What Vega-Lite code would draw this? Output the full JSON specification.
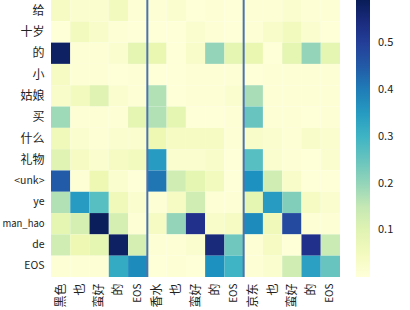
{
  "$schema": "https://vega.github.io/schema/vega-lite/v6.json",
  "width": 289,
  "height": 277,
  "autosize": {"type": "none"},
  "padding": {"left": 51, "top": 0, "right": 70, "bottom": 33},
  "config": {
    "font": "Noto Sans CJK SC",
    "view": {"stroke": null},
    "axis": {"ticks": false, "domain": false, "grid": false, "labelFont": "Noto Sans CJK SC", "labelColor": "#222222"},
    "axisX": {"labelAngle": -90, "labelPadding": 6, "labelFontSize": {"condition": {"test": "datum.value == 4 || datum.value == 9 || datum.value == 14", "value": 10}, "value": 12}, "labelExpr": "['黑色','也','蛮好','的','EOS','香水','也','蛮好','的','EOS','京东','也','蛮好','的','EOS'][datum.value]"},
    "axisY": {"labelPadding": 7, "labelFontSize": {"condition": [{"test": "datum.value == 'man_hao'", "value": 9.5}, {"test": "test(/[a-zA-Z<]/, datum.value)", "value": 10.5}], "value": 12}}
  },
  "layer": [
    {
      "data": {"values": [
        {"r":"给","c":0,"v":0.04},{"r":"给","c":1,"v":0.02},{"r":"给","c":2,"v":0.02},{"r":"给","c":3,"v":0.05},{"r":"给","c":4,"v":0.01},
        {"r":"给","c":5,"v":0.01},{"r":"给","c":6,"v":0.02},{"r":"给","c":7,"v":0.005},{"r":"给","c":8,"v":0.01},{"r":"给","c":9,"v":0.005},
        {"r":"给","c":10,"v":0.01},{"r":"给","c":11,"v":0.01},{"r":"给","c":12,"v":0.02},{"r":"给","c":13,"v":0.01},{"r":"给","c":14,"v":0.01},
        {"r":"十岁","c":0,"v":0.005},{"r":"十岁","c":1,"v":0.05},{"r":"十岁","c":2,"v":0.03},{"r":"十岁","c":3,"v":0.01},{"r":"十岁","c":4,"v":0.005},
        {"r":"十岁","c":5,"v":0.005},{"r":"十岁","c":6,"v":0.005},{"r":"十岁","c":7,"v":0.02},{"r":"十岁","c":8,"v":0.01},{"r":"十岁","c":9,"v":0.005},
        {"r":"十岁","c":10,"v":0.01},{"r":"十岁","c":11,"v":0.03},{"r":"十岁","c":12,"v":0.05},{"r":"十岁","c":13,"v":0.02},{"r":"十岁","c":14,"v":0.005},
        {"r":"的","c":0,"v":0.58},{"r":"的","c":1,"v":0.01},{"r":"的","c":2,"v":0.01},{"r":"的","c":3,"v":0.02},{"r":"的","c":4,"v":0.09},
        {"r":"的","c":5,"v":0.08},{"r":"的","c":6,"v":0.005},{"r":"的","c":7,"v":0.03},{"r":"的","c":8,"v":0.2},{"r":"的","c":9,"v":0.09},
        {"r":"的","c":10,"v":0.08},{"r":"的","c":11,"v":0.005},{"r":"的","c":12,"v":0.09},{"r":"的","c":13,"v":0.2},{"r":"的","c":14,"v":0.09},
        {"r":"小","c":0,"v":0.04},{"r":"小","c":1,"v":0.01},{"r":"小","c":2,"v":0.01},{"r":"小","c":3,"v":0.005},{"r":"小","c":4,"v":0.01},
        {"r":"小","c":5,"v":0.005},{"r":"小","c":6,"v":0.005},{"r":"小","c":7,"v":0.01},{"r":"小","c":8,"v":0.01},{"r":"小","c":9,"v":0.01},
        {"r":"小","c":10,"v":0.005},{"r":"小","c":11,"v":0.01},{"r":"小","c":12,"v":0.01},{"r":"小","c":13,"v":0.01},{"r":"小","c":14,"v":0.01},
        {"r":"姑娘","c":0,"v":0.03},{"r":"姑娘","c":1,"v":0.05},{"r":"姑娘","c":2,"v":0.1},{"r":"姑娘","c":3,"v":0.02},{"r":"姑娘","c":4,"v":0.01},
        {"r":"姑娘","c":5,"v":0.17},{"r":"姑娘","c":6,"v":0.005},{"r":"姑娘","c":7,"v":0.01},{"r":"姑娘","c":8,"v":0.01},{"r":"姑娘","c":9,"v":0.02},
        {"r":"姑娘","c":10,"v":0.18},{"r":"姑娘","c":11,"v":0.01},{"r":"姑娘","c":12,"v":0.01},{"r":"姑娘","c":13,"v":0.01},{"r":"姑娘","c":14,"v":0.01},
        {"r":"买","c":0,"v":0.19},{"r":"买","c":1,"v":0.01},{"r":"买","c":2,"v":0.01},{"r":"买","c":3,"v":0.01},{"r":"买","c":4,"v":0.09},
        {"r":"买","c":5,"v":0.17},{"r":"买","c":6,"v":0.09},{"r":"买","c":7,"v":0.005},{"r":"买","c":8,"v":0.005},{"r":"买","c":9,"v":0.01},
        {"r":"买","c":10,"v":0.25},{"r":"买","c":11,"v":0.01},{"r":"买","c":12,"v":0.01},{"r":"买","c":13,"v":0.005},{"r":"买","c":14,"v":0.01},
        {"r":"什么","c":0,"v":0.06},{"r":"什么","c":1,"v":0.02},{"r":"什么","c":2,"v":0.01},{"r":"什么","c":3,"v":0.02},{"r":"什么","c":4,"v":0.02},
        {"r":"什么","c":5,"v":0.07},{"r":"什么","c":6,"v":0.04},{"r":"什么","c":7,"v":0.04},{"r":"什么","c":8,"v":0.04},{"r":"什么","c":9,"v":0.01},
        {"r":"什么","c":10,"v":0.03},{"r":"什么","c":11,"v":0.02},{"r":"什么","c":12,"v":0.01},{"r":"什么","c":13,"v":0.03},{"r":"什么","c":14,"v":0.02},
        {"r":"礼物","c":0,"v":0.1},{"r":"礼物","c":1,"v":0.04},{"r":"礼物","c":2,"v":0.02},{"r":"礼物","c":3,"v":0.04},{"r":"礼物","c":4,"v":0.05},
        {"r":"礼物","c":5,"v":0.35},{"r":"礼物","c":6,"v":0.02},{"r":"礼物","c":7,"v":0.02},{"r":"礼物","c":8,"v":0.03},{"r":"礼物","c":9,"v":0.005},
        {"r":"礼物","c":10,"v":0.27},{"r":"礼物","c":11,"v":0.02},{"r":"礼物","c":12,"v":0.01},{"r":"礼物","c":13,"v":0.005},{"r":"礼物","c":14,"v":0.02},
        {"r":"<unk>","c":0,"v":0.45},{"r":"<unk>","c":1,"v":0.01},{"r":"<unk>","c":2,"v":0.07},{"r":"<unk>","c":3,"v":0.02},{"r":"<unk>","c":4,"v":0.005},
        {"r":"<unk>","c":5,"v":0.41},{"r":"<unk>","c":6,"v":0.13},{"r":"<unk>","c":7,"v":0.09},{"r":"<unk>","c":8,"v":0.05},{"r":"<unk>","c":9,"v":0.005},
        {"r":"<unk>","c":10,"v":0.37},{"r":"<unk>","c":11,"v":0.13},{"r":"<unk>","c":12,"v":0.03},{"r":"<unk>","c":13,"v":0.005},{"r":"<unk>","c":14,"v":0.005},
        {"r":"ye","c":0,"v":0.17},{"r":"ye","c":1,"v":0.35},{"r":"ye","c":2,"v":0.27},{"r":"ye","c":3,"v":0.06},{"r":"ye","c":4,"v":0.02},
        {"r":"ye","c":5,"v":0.01},{"r":"ye","c":6,"v":0.04},{"r":"ye","c":7,"v":0.13},{"r":"ye","c":8,"v":0.01},{"r":"ye","c":9,"v":0.01},
        {"r":"ye","c":10,"v":0.09},{"r":"ye","c":11,"v":0.35},{"r":"ye","c":12,"v":0.22},{"r":"ye","c":13,"v":0.04},{"r":"ye","c":14,"v":0.02},
        {"r":"man_hao","c":0,"v":0.09},{"r":"man_hao","c":1,"v":0.12},{"r":"man_hao","c":2,"v":0.59},{"r":"man_hao","c":3,"v":0.12},{"r":"man_hao","c":4,"v":0.01},
        {"r":"man_hao","c":5,"v":0.04},{"r":"man_hao","c":6,"v":0.2},{"r":"man_hao","c":7,"v":0.53},{"r":"man_hao","c":8,"v":0.03},{"r":"man_hao","c":9,"v":0.04},
        {"r":"man_hao","c":10,"v":0.38},{"r":"man_hao","c":11,"v":0.06},{"r":"man_hao","c":12,"v":0.48},{"r":"man_hao","c":13,"v":0.01},{"r":"man_hao","c":14,"v":0.01},
        {"r":"de","c":0,"v":0.13},{"r":"de","c":1,"v":0.07},{"r":"de","c":2,"v":0.09},{"r":"de","c":3,"v":0.58},{"r":"de","c":4,"v":0.12},
        {"r":"de","c":5,"v":0.01},{"r":"de","c":6,"v":0.01},{"r":"de","c":7,"v":0.02},{"r":"de","c":8,"v":0.55},{"r":"de","c":9,"v":0.24},
        {"r":"de","c":10,"v":0.01},{"r":"de","c":11,"v":0.04},{"r":"de","c":12,"v":0.005},{"r":"de","c":13,"v":0.53},{"r":"de","c":14,"v":0.14},
        {"r":"EOS","c":0,"v":0.01},{"r":"EOS","c":1,"v":0.01},{"r":"EOS","c":2,"v":0.01},{"r":"EOS","c":3,"v":0.32},{"r":"EOS","c":4,"v":0.38},
        {"r":"EOS","c":5,"v":0.005},{"r":"EOS","c":6,"v":0.01},{"r":"EOS","c":7,"v":0.005},{"r":"EOS","c":8,"v":0.37},{"r":"EOS","c":9,"v":0.3},
        {"r":"EOS","c":10,"v":0.01},{"r":"EOS","c":11,"v":0.02},{"r":"EOS","c":12,"v":0.13},{"r":"EOS","c":13,"v":0.34},{"r":"EOS","c":14,"v":0.25}
      ]},
      "mark": {"type": "rect"},
      "encoding": {
        "x": {"field": "c", "type": "ordinal", "title": null, "scale": {"paddingInner": 0, "paddingOuter": 0}},
        "y": {"field": "r", "type": "nominal", "title": null, "sort": ["给","十岁","的","小","姑娘","买","什么","礼物","<unk>","ye","man_hao","de","EOS"], "scale": {"paddingInner": 0, "paddingOuter": 0}},
        "color": {"field": "v", "type": "quantitative", "title": null,
          "scale": {"type": "linear", "domain": [0, 0.074, 0.148, 0.222, 0.296, 0.371, 0.445, 0.519, 0.593], "range": ["#ffffd9","#edf8b1","#c7e9b4","#7fcdbb","#41b6c4","#1d91c0","#225ea8","#253494","#081d58"], "interpolate": "rgb"},
          "legend": {"values": [0.1, 0.2, 0.3, 0.4, 0.5], "gradientLength": 277, "gradientThickness": 14, "gradientStrokeWidth": 0, "offset": 16, "padding": 0, "labelOffset": 8, "labelFontSize": 11, "labelColor": "#222222", "labelOverlap": false, "format": ".1f"}
        }
      }
    },
    {
      "data": {"values": [{"c": 5}, {"c": 10}]},
      "mark": {"type": "rule", "color": "#4c72b0", "strokeWidth": 2},
      "encoding": {
        "x": {"field": "c", "type": "ordinal", "title": null, "bandPosition": 0}
      }
    }
  ]
}
